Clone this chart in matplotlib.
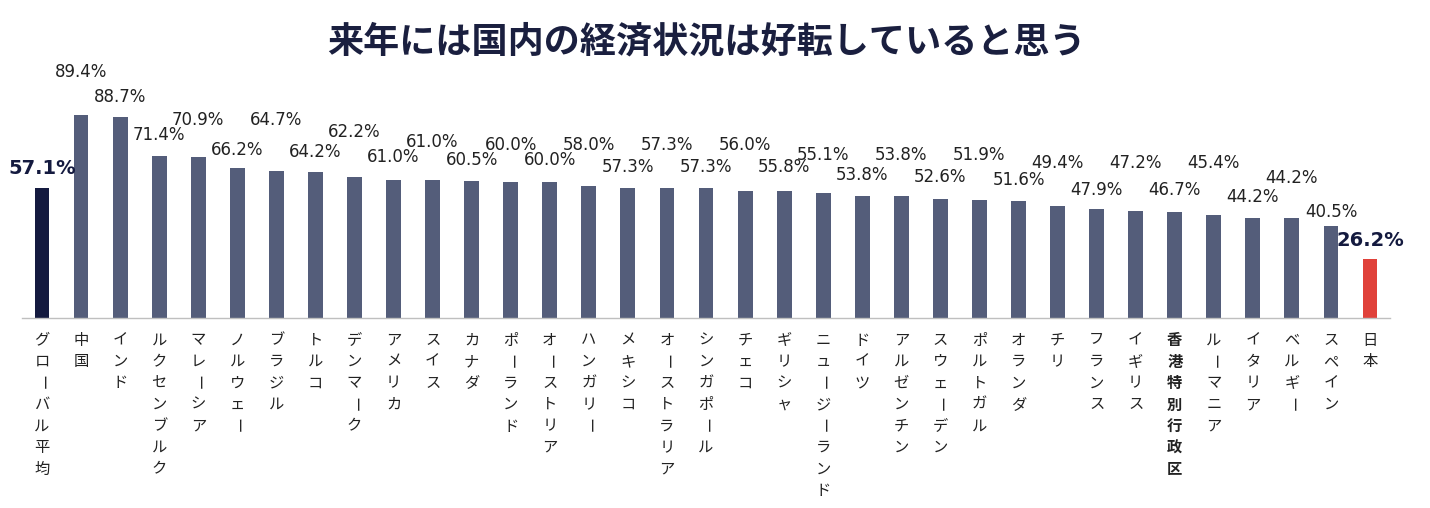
import matplotlib.pyplot as plt

plt.rcParams['font.family'] = ['Noto Sans CJK JP', 'DejaVu Sans']

countries = ['グローバル平均', '中国', 'インド', 'ルクセンブルク', 'マレーシア', 'ノルウェー', 'ブラジル',
             'トルコ', 'デンマーク', 'アメリカ', 'スイス', 'カナダ', 'ポーランド', 'オーストリア',
             'ハンガリー', 'メキシコ', 'オーストラリア', 'シンガポール', 'チェコ', 'ギリシャ',
             'ニュージーランド', 'ドイツ', 'アルゼンチン', 'スウェーデン', 'ポルトガル', 'オランダ',
             'チリ', 'フランス', 'イギリス', '香港特別行政区', 'ルーマニア', 'イタリア', 'ベルギー',
             'スペイン', '日本']
values = [57.1, 89.4, 88.7, 71.4, 70.9, 66.2, 64.7, 64.2, 62.2, 61.0, 61.0, 60.5, 60.0, 60.0,
          58.0, 57.3, 57.3, 57.3, 56.0, 55.8, 55.1, 53.8, 53.8, 52.6, 51.9, 51.6, 49.4, 47.9,
          47.2, 46.7, 45.4, 44.2, 44.2, 40.5, 26.2]

# label vertical positions (pixels from top)
label_px = [168, 72, 97, 135, 120, 150, 120, 152, 132, 157, 142, 160, 145, 160, 145, 167, 145,
            167, 145, 167, 155, 175, 155, 177, 155, 180, 163, 190, 163, 190, 163, 197, 178, 212, 240]

PX = 2.27  # pixels per percent
fig = plt.figure(figsize=(14.3, 5.08), dpi=100)
ax = fig.add_axes([0, 0, 1, 1])
ax.set_xlim(-42 / 39.06, 1388 / 39.06)
ax.set_ylim(-190 / PX, 318 / PX)
ax.axis('off')

colors = ['#141a3f'] + ['#545d7a'] * (len(values) - 2) + ['#e0413a']
x = list(range(len(values)))
ax.bar(x, values, width=0.38, color=colors)
ax.plot([-0.5, len(values) - 0.5], [0, 0], color='#bfbfbf', lw=1)

for i, (v, py) in enumerate(zip(values, label_px)):
    bold = i in (0, len(values) - 1)
    ax.text(i, (318 - py) / PX, f'{v:.1f}%', ha='center', va='center',
            fontsize=14 if bold else 12, fontweight='bold' if bold else 'normal',
            color='#141a3f' if bold else '#222222', family='DejaVu Sans')

for i, name in enumerate(countries):
    for j, ch in enumerate(name):
        ax.text(i, (-22 - 21.5 * j) / PX, ch, ha='center', va='center', fontsize=11,
                rotation=-90 if ch == 'ー' else 0, color='#222222',
                fontweight='bold' if name == '香港特別行政区' else 'normal')

ax.text(len(values) / 2 - 0.5, (318 - 42) / PX, '来年には国内の経済状況は好転していると思う',
        ha='center', va='center', fontsize=26, fontweight='bold', color='#1a1f3f')

fig.savefig('out.png', dpi=100)
